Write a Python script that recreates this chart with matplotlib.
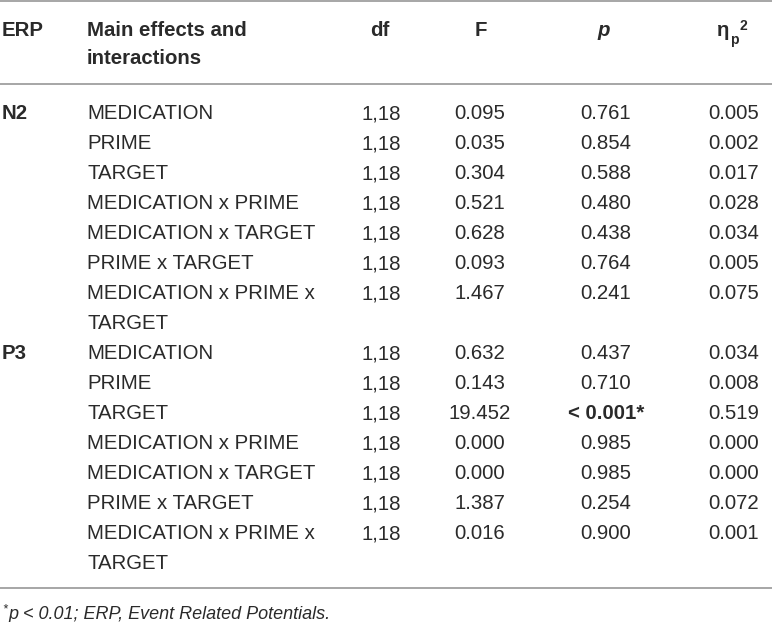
import matplotlib
matplotlib.use('Agg')
import matplotlib.pyplot as plt

# table contents
headers = ['ERP', 'Main effects and\ninteractions', 'df', 'F', 'p']
erp_groups = ['N2', 'P3']
effects = ['MEDICATION', 'PRIME', 'TARGET', 'MEDICATION x PRIME',
           'MEDICATION x TARGET', 'PRIME x TARGET',
           'MEDICATION x PRIME x\nTARGET']
df_vals = ['1,18'] * 7
f_n2 = ['0.095', '0.035', '0.304', '0.521', '0.628', '0.093', '1.467']
p_n2 = ['0.761', '0.854', '0.588', '0.480', '0.438', '0.764', '0.241']
eta_n2 = ['0.005', '0.002', '0.017', '0.028', '0.034', '0.005', '0.075']
f_p3 = ['0.632', '0.143', '19.452', '0.000', '0.000', '1.387', '0.016']
p_p3 = ['0.437', '0.710', '< 0.001*', '0.985', '0.985', '0.254', '0.900']
eta_p3 = ['0.034', '0.008', '0.519', '0.000', '0.000', '0.072', '0.001']
footnote = 'p < 0.01; ERP, Event Related Potentials.'

W, H = 772, 622
plt.rcParams['font.family'] = ['Liberation Sans', 'DejaVu Sans']
fig = plt.figure(figsize=(W / 100, H / 100), dpi=100)
ax = fig.add_axes([0, 0, 1, 1])
ax.set_xlim(0, W)
ax.set_ylim(H, 0)
ax.axis('off')

txt = '#2a2a2a'
fs = 14.7
line_c = '#a6a6a6'

# rules
for y in (0.8, 84, 588):
    ax.axhline(y, color=line_c, lw=1.4)

# header
hb = 35.5
ax.text(2, hb, 'ERP', fontsize=fs, fontweight='bold', color=txt, va='baseline')
h1, h2 = headers[1].split('\n')
ax.text(87, hb, h1, fontsize=fs, fontweight='bold', color=txt, va='baseline')
ax.text(87, hb + 29, h2, fontsize=fs, fontweight='bold', color=txt, va='baseline')
ax.text(380, hb, 'df', fontsize=fs, fontweight='bold', color=txt, va='baseline', ha='center')
ax.text(481, hb, 'F', fontsize=fs, fontweight='bold', color=txt, va='baseline', ha='center')
ax.text(604, hb, 'p', fontsize=fs, fontweight='bold', style='italic', color=txt,
        va='baseline', ha='center')
ax.text(717, hb + 1, 'η', fontsize=fs, fontweight='bold', color=txt, va='baseline')
ax.text(730, hb + 8.5, 'p', fontsize=10, fontweight='bold', color=txt, va='baseline')
ax.text(740, hb - 6, '2', fontsize=10, fontweight='bold', color=txt, va='baseline')

# body
y0 = 119
step = 30
row = 0
for g, fv, pv, ev in zip(erp_groups, (f_n2, f_p3), (p_n2, p_p3), (eta_n2, eta_p3)):
    ax.text(2, y0 + row * step, g, fontsize=fs, fontweight='bold', color=txt, va='baseline')
    for eff, d, f, p, e in zip(effects, df_vals, fv, pv, ev):
        y = y0 + row * step
        for k, part in enumerate(eff.split('\n')):
            ax.text(87, y + k * step, part, fontsize=fs, color=txt, va='baseline')
        ax.text(401, y, d, fontsize=fs, color=txt, va='baseline', ha='right')
        ax.text(480, y, f, fontsize=fs, color=txt, va='baseline', ha='center')
        bold = 'bold' if p.startswith('<') else 'normal'
        ax.text(606, y, p, fontsize=fs, color=txt, va='baseline', ha='center',
                fontweight=bold)
        ax.text(759, y, e, fontsize=fs, color=txt, va='baseline', ha='right')
        row += len(eff.split('\n'))

# footnote
ax.text(2, 612, '*', fontsize=9, style='italic', color=txt, va='baseline')
ax.text(8, 619, footnote, fontsize=13, style='italic', color=txt, va='baseline')

fig.savefig('out.png', dpi=100, facecolor='white')
